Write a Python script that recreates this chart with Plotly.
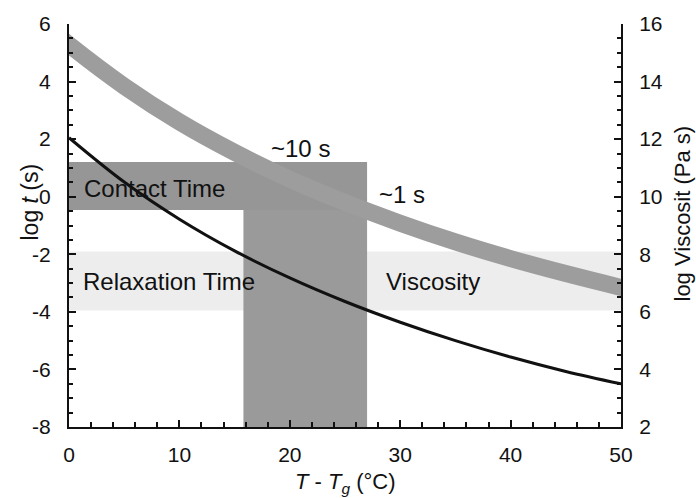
import plotly.graph_objects as go

# ---- data ----
T_vals = [0, 5, 10, 15, 20, 25, 30, 35, 40, 45, 50]
log_t_relax = [2.05, 0.51, -0.78, -1.88, -2.82, -3.64, -4.36, -5.00, -5.57, -6.07, -6.50]

# viscosity band continues slightly past both axes (clipped at the frame)
T_visc = [-2, 0, 5, 10, 15, 20, 25, 30, 35, 40, 45, 50, 52]
log_visc = [15.92, 15.28, 13.84, 12.60, 11.54, 10.61, 9.80, 9.08, 8.43, 7.85, 7.33, 6.85, 6.67]

light_band_y = [-1.9, -3.95]      # relaxation / viscosity band (left axis)
contact_band_y = [1.21, -0.46]    # contact time band (left axis)
contact_band_x = [0, 27.0]
window_x = [15.8, 27.0]           # vertical highlighted window

x_ticks = [0, 10, 20, 30, 40, 50]
y_ticks = [-8, -6, -4, -2, 0, 2, 4, 6]
y_ticktext = ["-8", "-6", "-4", "-2", "0", "2", "4", "6"]
y2_ticks = [2, 4, 6, 8, 10, 12, 14, 16]

labels = [
    ("Contact Time", 1.2, 0.30),
    ("Relaxation Time", 1.1, -2.93),
    ("Viscosity", 28.5, -2.93),
    ("~10 s", 18.1, 1.66),
    ("~1 s", 27.9, 0.08),
]

FONT = "Liberation Sans, Arial, Helvetica, sans-serif"
AX = "#111111"

fig = go.Figure()

fig.add_trace(go.Scatter(x=T_vals, y=log_t_relax, mode="lines", line=dict(color="#111111", width=3, shape="spline"),
                         showlegend=False, hoverinfo="skip"))
fig.add_trace(go.Scatter(x=T_visc, y=log_visc, mode="lines", yaxis="y2",
                         line=dict(color="#9c9d9c", width=17, shape="spline"),
                         showlegend=False, hoverinfo="skip"))

# bands
fig.add_shape(type="rect", xref="x", yref="y", x0=T_vals[0], x1=T_vals[-1], y0=light_band_y[1], y1=light_band_y[0],
              fillcolor="#ededed", line=dict(width=0), layer="below")
fig.add_shape(type="rect", xref="x", yref="y", x0=contact_band_x[0], x1=contact_band_x[1],
              y0=contact_band_y[1], y1=contact_band_y[0], fillcolor="#969696", line=dict(width=0), layer="below")
fig.add_shape(type="rect", xref="x", yref="y", x0=window_x[0], x1=window_x[1],
              y0=-8, y1=contact_band_y[1], fillcolor="#9a9a9a", line=dict(width=0), layer="below")

for txt, xv, yv in labels:
    fig.add_annotation(x=xv, y=yv, xref="x", yref="y", text=txt, showarrow=False, xanchor="left", yanchor="middle",
                       font=dict(family=FONT, size=24, color="#111111"))

# axis titles
fig.add_annotation(xref="paper", yref="paper", x=0.5, y=0, yshift=-56, text="<i>T</i> - <i>T</i><sub><i>g</i></sub> (°C)",
                   showarrow=False, xanchor="center", yanchor="middle", font=dict(family=FONT, size=22, color="#111111"))
fig.add_annotation(xref="paper", yref="paper", x=0, y=0.5, xshift=-40, yshift=23, text="log <i>t</i> (s)", textangle=-90,
                   showarrow=False, xanchor="center", yanchor="middle", font=dict(family=FONT, size=23, color="#111111"))
fig.add_annotation(xref="paper", yref="paper", x=1, y=0.5, xshift=61, yshift=12, text="log Viscosit (Pa s)", textangle=-90,
                   showarrow=False, xanchor="center", yanchor="middle", font=dict(family=FONT, size=22, color="#111111"))

common = dict(showgrid=False, zeroline=False, showline=True, linecolor=AX, linewidth=2,
              ticks="inside", ticklen=7, tickwidth=1.5, tickcolor=AX,
              tickfont=dict(family=FONT, size=21, color="#111111"))

fig.update_layout(
    width=696, height=498, margin=dict(l=69, r=75, t=16, b=71),
    paper_bgcolor="white", plot_bgcolor="white",
    xaxis=dict(range=[0, 50], tickvals=x_ticks, ticklabelstandoff=8,
               minor=dict(ticks="inside", dtick=2, ticklen=5, tickwidth=1.5, tickcolor=AX), **common),
    yaxis=dict(range=[-8, 6], tickvals=y_ticks, ticktext=y_ticktext, ticklabelstandoff=12,
               minor=dict(ticks="inside", dtick=0.5, ticklen=4, tickwidth=1.5, tickcolor=AX), **common),
    yaxis2=dict(range=[2, 16], tickvals=y2_ticks, overlaying="y", side="right", ticklabelstandoff=12,
                minor=dict(ticks="inside", dtick=0.5, ticklen=4, tickwidth=1.5, tickcolor=AX), **common),
    showlegend=False,
)

fig.write_html("out.html")
